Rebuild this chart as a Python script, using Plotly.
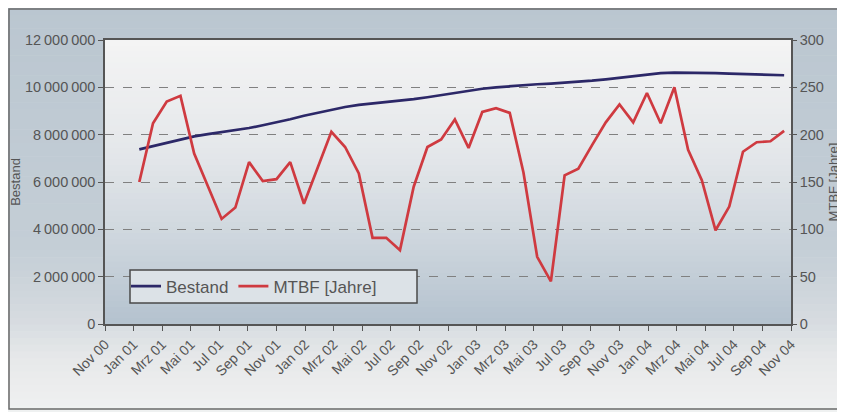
import plotly.graph_objects as go

# ---------------- data ----------------
axis_months = ["Nov 00", "Dez 00",
               "Jan 01", "Feb 01", "Mrz 01", "Apr 01", "Mai 01", "Jun 01", "Jul 01", "Aug 01", "Sep 01", "Okt 01", "Nov 01", "Dez 01",
               "Jan 02", "Feb 02", "Mrz 02", "Apr 02", "Mai 02", "Jun 02", "Jul 02", "Aug 02", "Sep 02", "Okt 02", "Nov 02", "Dez 02",
               "Jan 03", "Feb 03", "Mrz 03", "Apr 03", "Mai 03", "Jun 03", "Jul 03", "Aug 03", "Sep 03", "Okt 03", "Nov 03", "Dez 03",
               "Jan 04", "Feb 04", "Mrz 04", "Apr 04", "Mai 04", "Jun 04", "Jul 04", "Aug 04", "Sep 04", "Okt 04", "Nov 04", "Dez 04"]
data_months = axis_months[2:]

bestand = [7380000, 7520000, 7660000, 7800000, 7930000, 8020000, 8100000, 8180000, 8280000, 8400000,
           8520000, 8650000, 8800000, 8930000, 9060000, 9170000, 9260000, 9320000, 9360000, 9420000,
           9500000, 9580000, 9670000, 9760000, 9860000, 9940000, 10000000, 10050000, 10090000, 10130000,
           10160000, 10190000, 10230000, 10280000, 10340000, 10410000, 10480000, 10550000, 10600000, 10620000,
           10620000, 10610000, 10600000, 10580000, 10570000, 10550000, 10530000, 10510000]

mtbf = [150, 212, 235, 241, 180, 146, 111, 123, 171, 151,
        153, 171, 127, 165, 203, 187, 159, 91, 91, 78,
        145, 187, 195, 216, 186, 224, 228, 223, 160, 71,
        45, 157, 164, 189, 213, 232, 213, 244, 212, 250,
        184, 152, 99, 124, 182, 192, 193, 204]

tick_labels = ["Nov 00", "Jan 01", "Mrz 01", "Mai 01", "Jul 01", "Sep 01", "Nov 01", "Jan 02", "Mrz 02",
               "Mai 02", "Jul 02", "Sep 02", "Nov 02", "Jan 03", "Mrz 03", "Mai 03", "Jul 03", "Sep 03",
               "Nov 03", "Jan 04", "Mrz 04", "Mai 04", "Jul 04", "Sep 04", "Nov 04"]

left_ticks = [0, 2000000, 4000000, 6000000, 8000000, 10000000, 12000000]
right_ticks = [0, 50, 100, 150, 200, 250, 300]

# ---------------- styling ----------------
OFF = 8                      # page body margin of the browser
W, H = 845 - OFF, 412 - OFF  # figure size so that it fills the window
ML, MR, MT, MB = 105 - OFF, 54, 40 - OFF, 88
PW, PH = W - ML - MR, H - MT - MB
TXT = "#555555"
FONT = "Liberation Sans, Arial, sans-serif"

# tick marks spread evenly over the full category span
n_cat = len(axis_months)
n_int = len(tick_labels) - 1
tick_pos = [-0.5 + k * n_cat / n_int for k in range(len(tick_labels))]


def lerp_stops(stops, t):
    for (t0, c0), (t1, c1) in zip(stops[:-1], stops[1:]):
        if t0 <= t <= t1:
            f = (t - t0) / (t1 - t0) if t1 > t0 else 0
            return "rgb(%d,%d,%d)" % tuple(round(a + (b - a) * f) for a, b in zip(c0, c1))
    return "rgb(%d,%d,%d)" % stops[-1][1]


def px_x(sx):  # window pixel -> paper x
    return (sx - OFF - ML) / PW


def px_y(sy):  # window pixel -> paper y
    return (H - MB - (sy - OFF)) / PH


shapes = []
paper_stops = [(0, (186, 198, 208)), (250, (196, 206, 214)), (320, (214, 219, 224)),
               (360, (231, 233, 234)), (412, (240, 241, 241))]
n = 60
for i in range(n):
    sy0 = OFF + H * i / n
    sy1 = OFF + H * (i + 1) / n + 0.5
    shapes.append(dict(type="rect", xref="paper", yref="paper", layer="below",
                       x0=px_x(OFF), x1=px_x(OFF + W),
                       y0=px_y(sy1), y1=px_y(sy0),
                       fillcolor=lerp_stops(paper_stops, (sy0 + sy1) / 2), line=dict(width=0)))
plot_stops = [(0, (244, 244, 244)), (0.4, (228, 231, 234)), (0.75, (202, 211, 219)), (1, (180, 194, 207))]
n = 50
for i in range(n):
    t0 = i / n
    t1 = (i + 1) / n
    shapes.append(dict(type="rect", xref="x domain", yref="y domain", layer="below",
                       x0=0, x1=1, y0=max(0, 1 - t1 - 0.003), y1=1 - t0,
                       fillcolor=lerp_stops(plot_stops, (t0 + t1) / 2), line=dict(width=0)))
# legend box
shapes.append(dict(type="rect", xref="paper", yref="paper", layer="above",
                   x0=px_x(130), x1=px_x(417), y0=px_y(303), y1=px_y(270),
                   line=dict(color="#4a4a4a", width=1.5), fillcolor="#dce2e7"))
# outer frame
shapes.append(dict(type="rect", xref="paper", yref="paper", layer="above",
                   x0=px_x(OFF + 1), x1=px_x(842),
                   y0=px_y(409), y1=px_y(OFF + 1),
                   line=dict(color="#6a6a6a", width=1.5), fillcolor="rgba(0,0,0,0)"))

fig = go.Figure()
fig.add_trace(go.Scatter(x=data_months, y=bestand, name="Bestand", mode="lines",
                         line=dict(color="#2c2868", width=2.7), xaxis="x", yaxis="y"))
fig.add_trace(go.Scatter(x=data_months, y=mtbf, name="MTBF [Jahre]", mode="lines",
                         line=dict(color="#cf3a40", width=2.7), xaxis="x", yaxis="y2"))

fig.update_layout(
    width=W, height=H,
    margin=dict(l=ML, r=MR, t=MT, b=MB, autoexpand=False),
    paper_bgcolor="#e6e9ec", plot_bgcolor="#e6e9ec",
    font=dict(family=FONT, color=TXT, size=14),
    shapes=shapes,
    showlegend=True,
    legend=dict(orientation="h", x=px_x(126), y=(px_y(303) + px_y(270)) / 2,
                xanchor="left", yanchor="middle",
                bgcolor="rgba(0,0,0,0)", borderwidth=0,
                font=dict(size=17, color=TXT), itemwidth=30),
    xaxis=dict(type="category", categoryorder="array", categoryarray=axis_months,
               range=[-0.5, n_cat - 0.5], tickmode="array",
               tickvals=tick_pos, ticktext=tick_labels, automargin=False,
               tickangle=-45, tickfont=dict(size=14, color=TXT),
               ticks="outside", ticklen=5, tickcolor="#555", tickwidth=1.2,
               showline=True, linecolor="#555", linewidth=1.5, mirror=True,
               showgrid=False, zeroline=False),
    yaxis=dict(range=[0, 12000000], tickmode="array", tickvals=left_ticks,
               ticktext=[f"{v:,}".replace(",", "\u2009") for v in left_ticks],
               ticks="outside", ticklen=5, tickcolor="#555", tickwidth=1.2,
               tickfont=dict(size=14.5, color=TXT), automargin=False,
               showline=True, linecolor="#555", linewidth=1.5, mirror=True,
               showgrid=True, gridcolor="#808080", griddash="dash", gridwidth=1,
               zeroline=False,
               title=dict(text="Bestand", font=dict(size=13, color=TXT), standoff=4)),
    yaxis2=dict(range=[0, 300], tickmode="array", tickvals=right_ticks,
                overlaying="y", side="right", anchor="x", automargin=False,
                ticks="outside", ticklen=4, tickcolor="#555", tickwidth=1.2,
                tickfont=dict(size=14.5, color=TXT),
                showline=True, linecolor="#555", linewidth=1.5,
                showgrid=False, zeroline=False,
                title=dict(text="MTBF [Jahre]", font=dict(size=13, color=TXT), standoff=6)),
)

fig.write_html("out.html")
